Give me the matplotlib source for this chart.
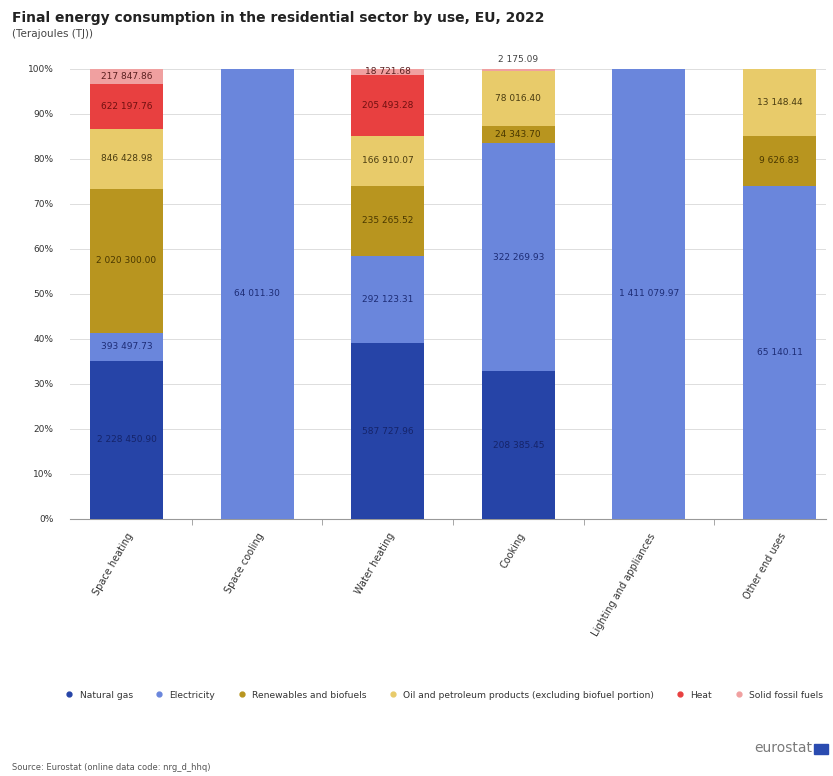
import matplotlib
matplotlib.use("Agg")
import matplotlib.pyplot as plt
import numpy as np
from matplotlib.patches import Rectangle
from matplotlib.lines import Line2D

categories = ["Space heating", "Space cooling", "Water heating", "Cooking",
              "Lighting and appliances", "Other end uses"]
series_names = ["Natural gas", "Electricity", "Renewables and biofuels",
                "Oil and petroleum products (excluding biofuel portion)", "Heat",
                "Solid fossil fuels"]
natural_gas = [2228450.90, 0, 587727.96, 208385.45, 0, 0]
electricity = [393497.73, 64011.30, 292123.31, 322269.93, 1411079.97, 65140.11]
renewables = [2020300.00, 0, 235265.52, 24343.70, 0, 9626.83]
oil = [846428.98, 0, 166910.07, 78016.40, 0, 13148.44]
heat = [622197.76, 0, 205493.28, 0, 0, 0]
solid_fossil = [217847.86, 0, 18721.68, 2175.09, 0, 0]
ytick_labels = ["0%", "10%", "20%", "30%", "40%", "50%", "60%", "70%", "80%", "90%", "100%"]

colors = ["#2644A7", "#6A86DC", "#B8951F", "#E8CB6A", "#E84040", "#F0A0A0"]
text_colors = ["#15246a", "#1d2c75", "#4a3800", "#4a3c10", "#701010", "#5a2020"]

data = np.array([natural_gas, electricity, renewables, oil, heat, solid_fossil])
totals = data.sum(axis=0)
shares = data / totals

W, H = 833, 776
fig = plt.figure(figsize=(W / 100, H / 100), dpi=100)
L, R, T, B = 70, 826, 69, 519
ax = fig.add_axes([L / W, 1 - B / H, (R - L) / W, (B - T) / H])

c0, sp = 126.5, 130.6
x = np.arange(len(categories))
bw = 0.56

def fmt(v):
    return f"{v:,.2f}".replace(",", " ")

bottom = np.zeros(len(categories))
for i, name in enumerate(series_names):
    ax.bar(x, shares[i], bw, bottom=bottom, color=colors[i], label=name,
           zorder=3, linewidth=0)
    for j in range(len(categories)):
        if data[i, j] <= 0:
            continue
        if shares[i, j] < 0.01:
            ax.text(x[j], bottom[j] + shares[i, j] + 0.012, fmt(data[i, j]),
                    ha="center", va="bottom", fontsize=6.5, color="#444444",
                    clip_on=False, zorder=5)
        else:
            ax.text(x[j], bottom[j] + shares[i, j] / 2, fmt(data[i, j]),
                    ha="center", va="center", fontsize=6.5, color=text_colors[i],
                    zorder=5)
    bottom += shares[i]

ax.set_xlim(-(c0 - L) / sp, (R - c0) / sp)
ax.set_ylim(0, 1)
ax.set_yticks(np.linspace(0, 1, 11))
ax.set_yticklabels(ytick_labels, fontsize=6.5, color="#333333")
ax.yaxis.grid(True, color="#dddddd", linewidth=0.7, zorder=0)
ax.tick_params(axis="y", length=0, pad=12)
ax.set_xticks(x)
ax.set_xticklabels(categories, rotation=60, ha="right", rotation_mode="anchor",
                   fontsize=7, color="#333333")
ax.tick_params(axis="x", length=0, pad=9)
ax.set_xticks(np.arange(len(categories) - 1) + 0.5, minor=True)
ax.tick_params(axis="x", which="minor", length=4, color="#999999")
for s in ["top", "right", "left"]:
    ax.spines[s].set_visible(False)
ax.spines["bottom"].set_color("#999999")
ax.spines["bottom"].set_linewidth(0.8)

handles = [Line2D([0], [0], marker="o", linestyle="", markersize=3.5,
                  markerfacecolor=c, markeredgecolor=c) for c in colors]
fig.legend(handles, series_names, loc="center", bbox_to_anchor=(0.53, 1 - 695 / H),
           ncol=6, frameon=False, fontsize=6.6, handletextpad=0.1,
           columnspacing=1.9, labelcolor="#333333")

fig.text(12 / W, 1 - 18 / H, "Final energy consumption in the residential sector by use, EU, 2022",
         fontsize=10, fontweight="bold", color="#222222", va="center")
fig.text(12 / W, 1 - 34 / H, "(Terajoules (TJ))", fontsize=7.5, color="#444444", va="center")
fig.text(12 / W, 1 - 768 / H, "Source: Eurostat (online data code: nrg_d_hhq)",
         fontsize=6, color="#555555", va="center")
fig.text(812 / W, 1 - 748 / H, "eurostat", fontsize=10, color="#7a7a7a",
         va="center", ha="right")
fig.patches.append(Rectangle((814 / W, 1 - 754 / H), 14 / W, 10 / H,
                             transform=fig.transFigure, color="#2a4bb0"))

fig.savefig("out.png", dpi=100)
